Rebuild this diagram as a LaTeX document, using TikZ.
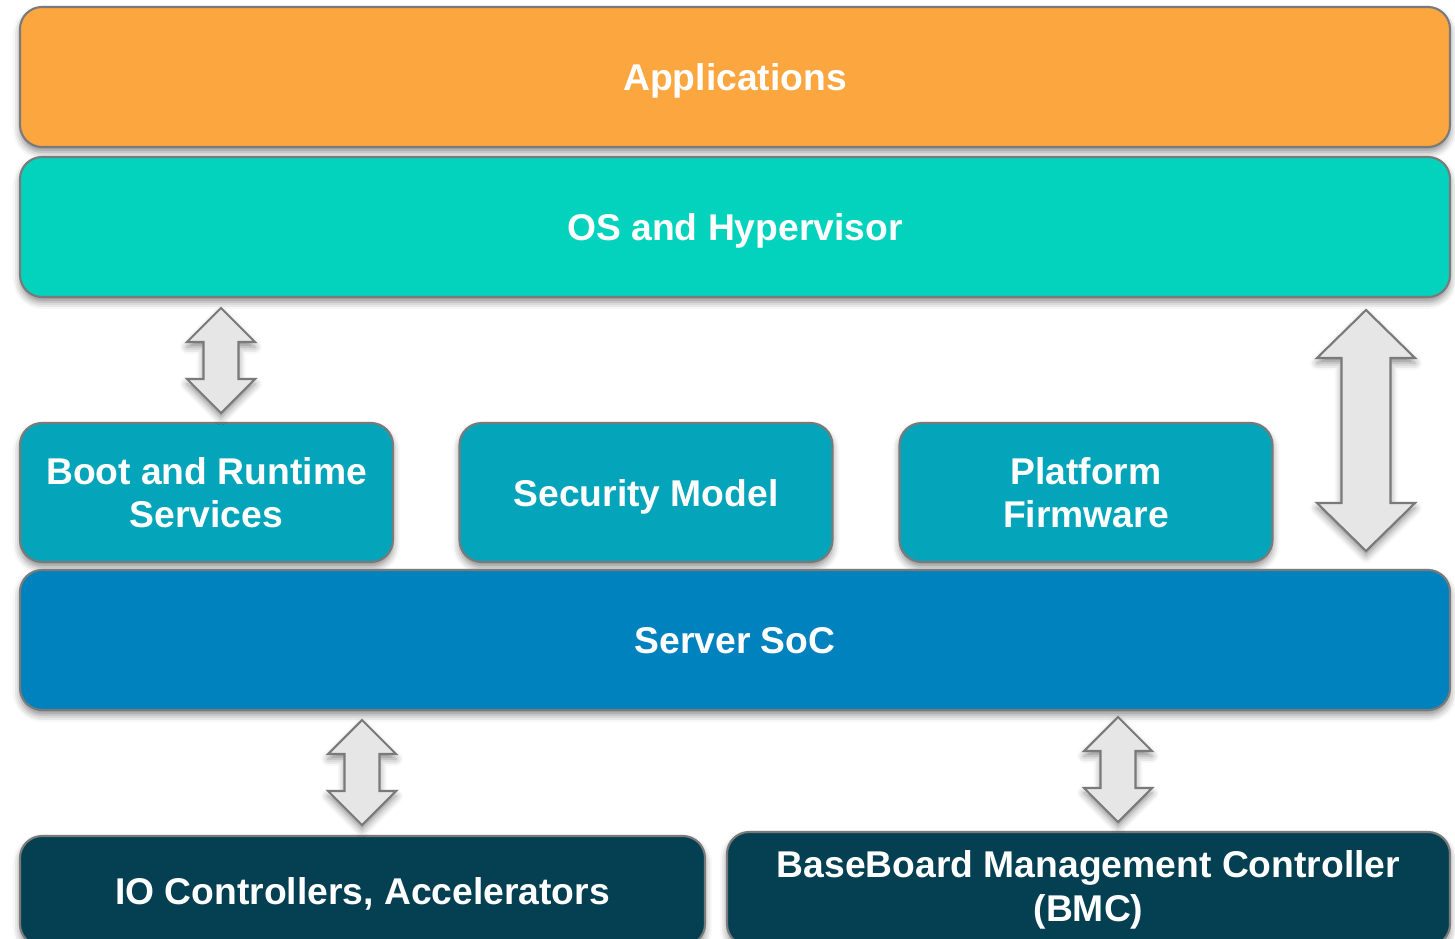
\documentclass[tikz,border=0pt]{standalone}
\usepackage{fontspec}
\setmainfont{Liberation Sans}
\usetikzlibrary{calc, shadows.blur}

\definecolor{appsorange}{HTML}{FCA640}
\definecolor{osteal}{HTML}{03D2BD}
\definecolor{serviceteal}{HTML}{04A5BA}
\definecolor{socblue}{HTML}{0082BF}
\definecolor{hwdark}{HTML}{044052}
\definecolor{edgegrey}{HTML}{7A7A7A}
\definecolor{arrowgrey}{HTML}{E6E6E6}

\tikzset{
	soft shadow/.style={blur shadow={shadow xshift=0pt, shadow yshift=-0.5mm, shadow blur radius=0.7mm, shadow opacity=45}},
	layer/.style={draw=edgegrey, line width=0.6pt, rounded corners=2.2mm, text=white, align=center, inner sep=0pt,
		text depth=0pt, font=\bfseries\fontsize{10.6}{12.5}\selectfont, soft shadow},
	wide layer/.style={layer, minimum width=14.3cm, minimum height=1.4cm},
	service/.style={layer, fill=serviceteal, minimum width=3.73cm, minimum height=1.39cm},
	blockarrow/.style={draw=edgegrey, line width=0.6pt, fill=arrowgrey, soft shadow}
}

\newcommand{\blockarrow}[5]{
	\draw[blockarrow] (#1) -- ++(-#4,-#5) -- ++(#4-#3,0) -- ($(#2)+(-#3,#5)$) -- ++(#3-#4,0) -- (#2)
		-- ++(#4,#5) -- ++(#3-#4,0) -- ($(#1)+(#3,-#5)$) -- ++(#4-#3,0) -- cycle;
}

\begin{document}
\begin{tikzpicture}
			\useasboundingbox (0,0) rectangle (14.55,-9.38);

			\node[wide layer, fill=appsorange] (apps) at (7.35,-0.77) {Applications};
			\node[wide layer, fill=osteal] (os) at (7.35,-2.27) {OS and Hypervisor};

			\node[service] (boot) at (2.065,-4.925) {Boot and Runtime\\Services};
			\node[service] (security) at (6.46,-4.925) {Security Model};
			\node[service] (platform) at (10.86,-4.925) {Platform\\Firmware};

			\node[wide layer, fill=socblue] (soc) at (7.35,-6.40) {Server SoC};

			\node[layer, fill=hwdark, minimum width=6.85cm, minimum height=1.10cm] (io) at (3.625,-8.91) {IO Controllers, Accelerators};
			\node[layer, fill=hwdark, minimum width=7.23cm, minimum height=1.14cm, text depth=0.6mm] (bmc) at (10.885,-8.89) {BaseBoard Management Controller\\(BMC)};

			\coordinate (boot arrow top) at (2.21,-3.08);
			\coordinate (boot arrow bottom) at (2.21,-4.13);
			\coordinate (fw arrow top) at (13.66,-3.10);
			\coordinate (fw arrow bottom) at (13.66,-5.51);
			\coordinate (io arrow top) at (3.62,-7.20);
			\coordinate (io arrow bottom) at (3.62,-8.25);
			\coordinate (bmc arrow top) at (11.18,-7.17);
			\coordinate (bmc arrow bottom) at (11.18,-8.22);

			\blockarrow{boot arrow top}{boot arrow bottom}{0.175}{0.34}{0.34}
			\blockarrow{fw arrow top}{fw arrow bottom}{0.245}{0.49}{0.48}
			\blockarrow{io arrow top}{io arrow bottom}{0.175}{0.34}{0.34}
			\blockarrow{bmc arrow top}{bmc arrow bottom}{0.175}{0.34}{0.34}
		\end{tikzpicture}
\end{document}
